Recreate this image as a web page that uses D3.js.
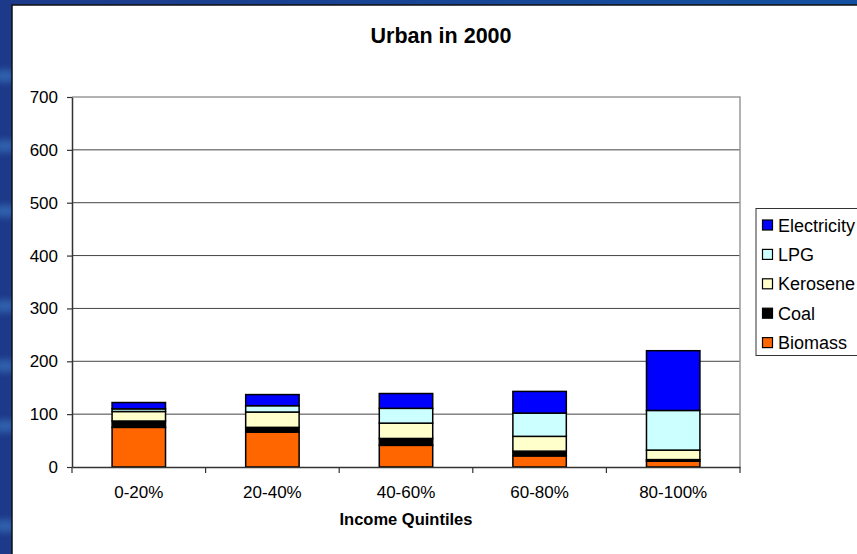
<!DOCTYPE html>
<html>
<head>
<meta charset="utf-8">
<script src="https://cdn.jsdelivr.net/npm/d3@7"></script>
<style>
  html, body { margin: 0; padding: 0; background: #1d3b8c; }
  svg { display: block; }
  text { font-family: "Liberation Sans", Arial, sans-serif; fill: #000; }
</style>
</head>
<body>
<svg id="chart" width="857" height="554"></svg>
<script>
// Household energy use by income quintile, urban areas, 2000
const categories = ["0-20%", "20-40%", "40-60%", "60-80%", "80-100%"];
const fuels = ["Biomass", "Coal", "Kerosene", "LPG", "Electricity"];
const biomass     = [75, 66, 41, 21, 11];
const coal        = [12,  9, 13,  9,  3];
const kerosene    = [18, 29, 29, 28, 18];
const lpg         = [ 5, 12, 28, 44, 75];
const electricity = [12, 21, 28, 41, 113];
const yTicks = [0, 100, 200, 300, 400, 500, 600, 700];
const fuelColors = ["#ff6600", "#000000", "#ffffcc", "#ccffff", "#0000ff"];

const rows = categories.map((c, i) => ({
  cat: c,
  Biomass: biomass[i], Coal: coal[i], Kerosene: kerosene[i],
  LPG: lpg[i], Electricity: electricity[i]
}));

const svg = d3.select("#chart");
const W = 857, H = 554;

// slide background with soft lighter streaks down the left edge
const defs = svg.append("defs");
const bg = defs.append("linearGradient").attr("id", "bg").attr("x1", 0).attr("y1", 0).attr("x2", 1).attr("y2", 0);
bg.append("stop").attr("offset", 0).attr("stop-color", "#1d3a8a");
bg.append("stop").attr("offset", 1).attr("stop-color", "#1450a0");
defs.append("filter").attr("id", "soft").append("feGaussianBlur").attr("stdDeviation", 3);
svg.append("rect").attr("width", W).attr("height", H).attr("fill", "url(#bg)");
const streaks = [70, 140, 205, 300, 360, 420, 520];
svg.append("g").attr("filter", "url(#soft)").selectAll("rect").data(streaks).join("rect")
  .attr("x", -4).attr("y", d => d).attr("width", 18).attr("height", 12)
  .attr("fill", "#3a7cc4").attr("opacity", 0.6);

// white chart panel with dark edge
svg.append("rect").attr("x", 12).attr("y", 5).attr("width", W).attr("height", H)
  .attr("fill", "#ffffff").attr("stroke", "#111").attr("stroke-width", 1.5);

const plot = { left: 72, right: 740, top: 97, bottom: 467 };

const x = d3.scaleBand().domain(categories).range([plot.left, plot.right]).paddingInner(0).paddingOuter(0);
const y = d3.scaleLinear().domain([0, 700]).range([plot.bottom, plot.top]);

// gridlines
svg.append("g").selectAll("line").data(yTicks.filter(t => t > 0 && t < 700)).join("line")
  .attr("x1", plot.left).attr("x2", plot.right)
  .attr("y1", d => y(d)).attr("y2", d => y(d))
  .attr("stroke", "#444").attr("stroke-width", 1);

// plot frame (top and right)
svg.append("path")
  .attr("d", `M${plot.left},${y(700)}H${plot.right}V${plot.bottom}`)
  .attr("fill", "none").attr("stroke", "#999").attr("stroke-width", 1.5);

// stacked bars
const stack = d3.stack().keys(fuels)(rows);
const barW = x.bandwidth() / 2.5;
const color = d3.scaleOrdinal().domain(fuels).range(fuelColors);

svg.append("g").selectAll("g").data(stack).join("g")
  .attr("fill", d => color(d.key))
  .selectAll("rect").data(d => d).join("rect")
  .attr("x", d => x(d.data.cat) + (x.bandwidth() - barW) / 2)
  .attr("width", barW)
  .attr("y", d => y(d[1]))
  .attr("height", d => y(d[0]) - y(d[1]))
  .attr("stroke", "#000").attr("stroke-width", 1.5);

// y axis
const yAxis = svg.append("g").attr("transform", `translate(${plot.left},0)`)
  .call(d3.axisLeft(y).tickValues(yTicks).tickSize(5).tickPadding(9).tickSizeOuter(0));
yAxis.select(".domain").attr("stroke", "#333").attr("stroke-width", 1.5);
yAxis.selectAll(".tick line").attr("stroke", "#333").attr("stroke-width", 1.2);
yAxis.selectAll(".tick text").attr("font-size", 17).attr("font-family", "Liberation Sans, Arial, sans-serif").attr("fill", "#000");

// x axis with ticks on category boundaries
const xAxis = svg.append("g").attr("transform", `translate(0,${plot.bottom})`)
  .call(d3.axisBottom(x).tickSize(0).tickPadding(19).tickSizeOuter(0));
xAxis.select(".domain").attr("stroke", "#333").attr("stroke-width", 1.5);
xAxis.selectAll(".tick text").attr("font-size", 17).attr("font-family", "Liberation Sans, Arial, sans-serif").attr("fill", "#000");
svg.append("g").selectAll("line").data(categories.concat([null])).join("line")
  .attr("x1", (d, i) => plot.left + i * x.bandwidth())
  .attr("x2", (d, i) => plot.left + i * x.bandwidth())
  .attr("y1", plot.bottom).attr("y2", plot.bottom + 6)
  .attr("stroke", "#333").attr("stroke-width", 1.2);

// titles
svg.append("text").attr("x", 441).attr("y", 43).attr("text-anchor", "middle")
  .attr("font-size", 21.5).attr("font-weight", "bold").text("Urban in 2000");
svg.append("text").attr("x", (plot.left + plot.right) / 2).attr("y", 525).attr("text-anchor", "middle")
  .attr("font-size", 16.5).attr("font-weight", "bold").text("Income Quintiles");

// legend, top entry is the top of the stack
const legend = svg.append("g");
legend.append("rect").attr("x", 756).attr("y", 208.5).attr("width", 120).attr("height", 147)
  .attr("fill", "#fff").attr("stroke", "#333").attr("stroke-width", 1);
const legendItems = fuels.slice().reverse();
const li = legend.selectAll("g.item").data(legendItems).join("g")
  .attr("class", "item")
  .attr("transform", (d, i) => `translate(762,${225 + i * 29.4})`);
li.append("rect").attr("x", 0.5).attr("y", -5).attr("width", 10).attr("height", 10)
  .attr("fill", d => color(d)).attr("stroke", "#000").attr("stroke-width", 1.2);
li.append("text").attr("x", 16).attr("y", 6.5).attr("font-size", 18).text(d => d);
</script>
</body>
</html>
